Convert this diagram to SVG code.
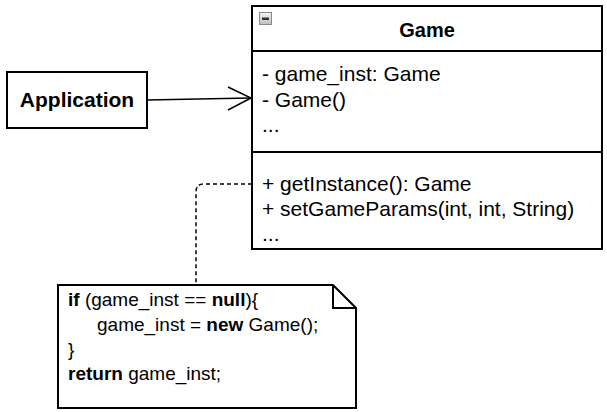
<svg xmlns="http://www.w3.org/2000/svg" width="607" height="412" viewBox="0 0 607 412">
<defs>
<style>
.box{fill:#fff;stroke:#000;stroke-width:2}
.t{font-family:"Liberation Sans",Arial,sans-serif;font-size:21px;fill:#000}
.n{font-size:19px}
.h{font-size:20px}
.b{font-weight:bold}
.conn{fill:none;stroke:#000;stroke-width:1.5}
</style>
<linearGradient id="ig" x1="0" y1="0" x2="0" y2="1">
<stop offset="0" stop-color="#f4f4f4"/>
<stop offset="1" stop-color="#bfbfbf"/>
</linearGradient>
</defs>
<rect width="607" height="412" fill="#fff"/>
<g id="connectors">
<path class="conn" d="M147 100 L250 98"/>
<path class="conn" d="M228 87 L251 98 L228 110"/>
<path class="conn" stroke-width="1.8" stroke-dasharray="4 3" d="M252 184 L204 184 Q196 184 196 192 L196 285"/>
</g>
<g id="game">
<rect class="box" x="252" y="6" width="350" height="243"/>
<line x1="252" y1="51" x2="602" y2="51" stroke="#000" stroke-width="2"/>
<line x1="252" y1="152" x2="602" y2="152" stroke="#000" stroke-width="2"/>
<rect x="259.5" y="12.5" width="12" height="12" fill="url(#ig)" stroke="#8a8a8a" stroke-width="1"/>
<rect x="262" y="17.5" width="7" height="2.5" fill="#333"/>
<text class="t h b" x="427" y="37" text-anchor="middle">Game</text>
<text class="t" x="262" y="81">- game_inst: Game</text>
<text class="t" x="262" y="107">- Game()</text>
<text class="t" x="262" y="132">...</text>
<text class="t" x="262" y="191">+ getInstance(): Game</text>
<text class="t" x="262" y="216">+ setGameParams(int, int, String)</text>
<text class="t" x="262" y="241">...</text>
</g>
<g id="application">
<rect class="box" x="7" y="72" width="140" height="56"/>
<text class="t b" x="77" y="107" text-anchor="middle">Application</text>
</g>
<g id="note">
<path class="box" d="M58 285 L333 285 L356 308 L356 408 L58 408 Z"/>
<path fill="none" stroke="#000" stroke-width="2" d="M333 285 L333 308 L356 308"/>
<text class="t n" x="68" y="306"><tspan class="b">if</tspan> (game_inst == <tspan class="b">null</tspan>){</text>
<text class="t n" x="97" y="331">game_inst = <tspan class="b">new</tspan> Game();</text>
<text class="t n" x="68" y="356">}</text>
<text class="t n" x="68" y="380"><tspan class="b">return</tspan> game_inst;</text>
</g>
</svg>
